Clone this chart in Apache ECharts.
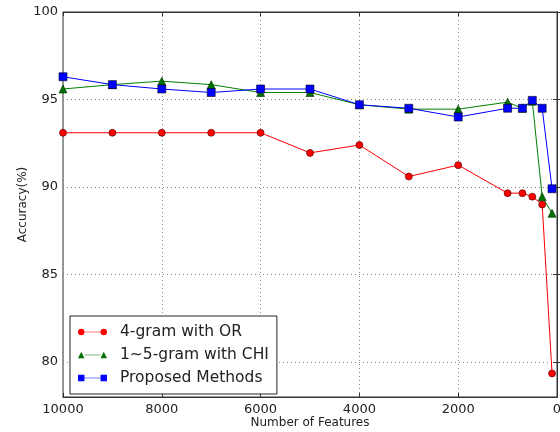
<!DOCTYPE html>
<html><head><meta charset="utf-8">
<script src="https://cdn.jsdelivr.net/npm/echarts@6/dist/echarts.min.js"></script>
<style>html,body{margin:0;padding:0;background:#fff}#c{width:560px;height:432px}</style>
</head><body><div id="c"></div>
<script>
const features = [10000, 9000, 8000, 7000, 6000, 5000, 4000, 3000, 2000, 1000, 700, 500, 300, 100];
const orValues = [93.1, 93.1, 93.1, 93.1, 93.1, 91.95, 92.4, 90.6, 91.25, 89.65, 89.65, 89.45, 89.0, 79.35];
const chiValues = [95.6, 95.85, 96.05, 95.85, 95.4, 95.4, 94.7, 94.45, 94.45, 94.85, 94.5, 94.9, 89.45, 88.5];
const propValues = [96.3, 95.85, 95.6, 95.4, 95.6, 95.6, 94.7, 94.5, 94.0, 94.5, 94.5, 94.95, 94.5, 89.9];
const seriesNames = ['4-gram with OR', '1~5-gram with CHI', 'Proposed Methods'];
const yTicks = [80, 85, 90, 95, 100];

const font = 'DejaVu Sans';
const AX = '#333';
function pairs(vals){ return features.map((f,i)=>[f, vals[i]]); }
const lineSeg = ' M8,4.6 L28,4.6 L28,5.4 L8,5.4 Z';
const iconCircle = 'path://M0,5 A4,4 0 1,0 8,5 A4,4 0 1,0 0,5 Z' + lineSeg + ' M28,5 A4,4 0 1,0 36,5 A4,4 0 1,0 28,5 Z';
const iconTri = 'path://M0,9 L4,1 L8,9 Z' + lineSeg + ' M28,9 L32,1 L36,9 Z';
const iconRect = 'path://M0,1 L8,1 L8,9 L0,9 Z' + lineSeg + ' M28,1 L36,1 L36,9 L28,9 Z';

const gridLine = {show: true, lineStyle: {color: '#888', type: [1, 3], width: 1}};
const chart = echarts.init(document.getElementById('c'));
chart.setOption({
  animation: false,
  backgroundColor: '#fff',
  textStyle: {fontFamily: font},
  grid: {left: 63, right: 3, top: 12, bottom: 35, containLabel: false, outerBoundsMode: 'none',
         show: true, borderColor: AX, borderWidth: 1, backgroundColor: 'transparent'},
  xAxis: [{
    type: 'value', inverse: true, min: 0, max: 10000, interval: 2000,
    name: 'Number of Features', nameLocation: 'middle', nameGap: 20, nameMoveOverlap: false,
    nameTextStyle: {fontFamily: font, fontSize: 12, color: '#222'},
    axisLine: {show: true, lineStyle: {color: AX}},
    axisTick: {show: true, inside: true, length: 4, lineStyle: {color: AX}},
    axisLabel: {fontFamily: font, fontSize: 13, color: '#222', margin: 6, showMaxLabel: true, showMinLabel: true,
                formatter: v => String(v)},
    splitLine: gridLine
  }, {
    type: 'value', inverse: true, min: 0, max: 10000, interval: 2000, position: 'top',
    axisLine: {show: true, lineStyle: {color: AX}},
    axisTick: {show: true, inside: true, length: 4, lineStyle: {color: AX}},
    axisLabel: {show: false}, splitLine: {show: false}
  }],
  yAxis: [{
    type: 'value', min: 78, max: 100,
    name: 'Accuracy(%)', nameLocation: 'middle', nameGap: 34, nameMoveOverlap: false,
    nameTextStyle: {fontFamily: font, fontSize: 12, color: '#222'},
    axisLine: {show: true, lineStyle: {color: AX}},
    axisTick: {show: true, inside: true, length: 4, lineStyle: {color: AX}, customValues: yTicks},
    axisLabel: {fontFamily: font, fontSize: 13, color: '#222', margin: 5, customValues: yTicks},
    splitLine: gridLine
  }, {
    type: 'value', min: 78, max: 100, position: 'right',
    axisLine: {show: true, lineStyle: {color: AX}},
    axisTick: {show: true, inside: true, length: 4, lineStyle: {color: AX}, customValues: yTicks},
    axisLabel: {show: false, customValues: yTicks}, splitLine: {show: false}
  }],
  legend: {
    orient: 'vertical', left: 70, top: 316,
    data: [
      {name: seriesNames[0], icon: iconCircle, itemStyle: {borderWidth: 0}},
      {name: seriesNames[1], icon: iconTri, itemStyle: {borderWidth: 0}},
      {name: seriesNames[2], icon: iconRect, itemStyle: {borderWidth: 0}}
    ],
    borderColor: '#222', borderWidth: 1, borderRadius: 0,
    padding: [8, 8, 8, 8], itemGap: 7, itemWidth: 29, itemHeight: 7,
    textStyle: {fontFamily: font, fontSize: 15.5, color: '#222', padding: [0, 0, 0, 8]},
    backgroundColor: '#fff'
  },
  series: [
    {name: seriesNames[0], type: 'line', data: pairs(orValues), symbol: 'circle', symbolSize: 7,
     lineStyle: {color: '#ff0000', width: 1}, itemStyle: {color: '#ff0000', borderColor: '#400', borderWidth: 0.6}},
    {name: seriesNames[1], type: 'line', data: pairs(chiValues), symbol: 'triangle', symbolSize: 8,
     lineStyle: {color: '#008000', width: 1}, itemStyle: {color: '#007000', borderColor: '#030', borderWidth: 0.6}},
    {name: seriesNames[2], type: 'line', data: pairs(propValues), symbol: 'rect', symbolSize: 8,
     lineStyle: {color: '#0000ff', width: 1}, itemStyle: {color: '#0000ff', borderColor: '#002', borderWidth: 0.6}}
  ]
});
</script></body></html>
